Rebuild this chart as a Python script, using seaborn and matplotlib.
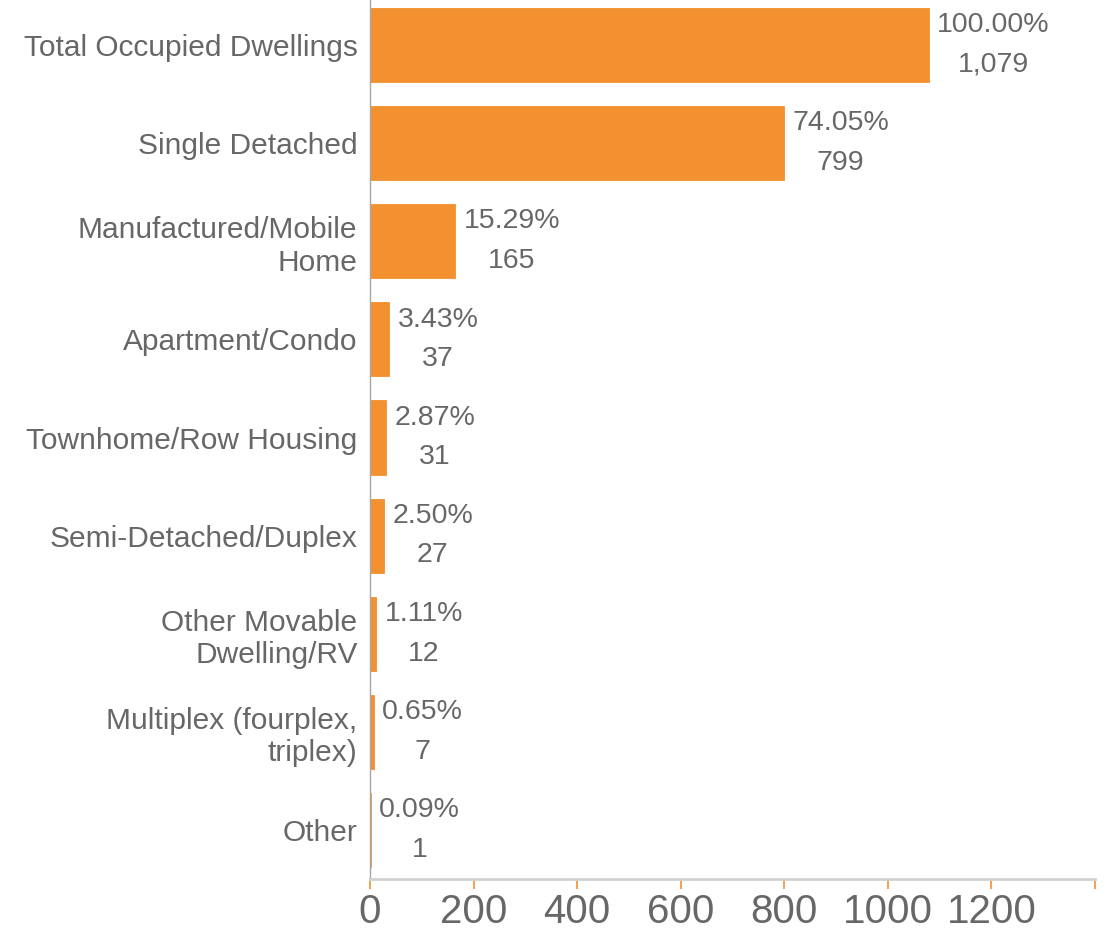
import matplotlib
matplotlib.use("Agg")
import matplotlib.pyplot as plt
import seaborn as sns
import pandas as pd
from matplotlib import font_manager

categories = [
    "Total Occupied Dwellings",
    "Single Detached",
    "Manufactured/Mobile\nHome",
    "Apartment/Condo",
    "Townhome/Row Housing",
    "Semi-Detached/Duplex",
    "Other Movable\nDwelling/RV",
    "Multiplex (fourplex,\ntriplex)",
    "Other",
]
counts = [1079, 799, 165, 37, 31, 27, 12, 7, 1]
percents = ["100.00%", "74.05%", "15.29%", "3.43%", "2.87%", "2.50%", "1.11%", "0.65%", "0.09%"]
xticks = [0, 200, 400, 600, 800, 1000, 1200, 1400]
xtick_labels = ["0", "200", "400", "600", "800", "1000", "1200", ""]

ORANGE = "#F39130"
GREY_TEXT = "#676767"

sns.set_style("white")
plt.rcParams["font.family"] = ["Liberation Sans", "DejaVu Sans"]

names = {f.name for f in font_manager.fontManager.ttflist}
tick_family = "Liberation Sans Narrow" if "Liberation Sans Narrow" in names else "Liberation Sans"

df = pd.DataFrame({"category": categories, "count": counts})

fig = plt.figure(figsize=(11.12, 9.32), dpi=100)
ax = fig.add_axes([370 / 1112, 1 - 879 / 932, (1095 - 370) / 1112, 883 / 932])

sns.barplot(data=df, x="count", y="category", color=ORANGE, saturation=1,
            width=0.755, ax=ax, orient="h", edgecolor=ORANGE, linewidth=0.6)

for i, (c, p) in enumerate(zip(counts, percents)):
    ax.annotate(f"{p}\n{c:,}", xy=(c, i), xytext=(6, 0), textcoords="offset points",
                ha="left", va="center", multialignment="center", linespacing=1.68,
                fontsize=20.5, color=GREY_TEXT)

ax.set_xlim(0, 1400)
ax.set_ylim(8.5, -0.5)
ax.set_xticks(xticks)
ax.set_xticklabels(xtick_labels, fontsize=29, color=GREY_TEXT, family=tick_family)
ax.tick_params(axis="x", direction="out", length=7, width=1.2, color=ORANGE, pad=3, bottom=True)
ax.tick_params(axis="y", length=0, pad=9, labelsize=21.5, labelcolor=GREY_TEXT)
ax.set_xlabel("")
ax.set_ylabel("")

for side in ["top", "right"]:
    ax.spines[side].set_visible(False)
ax.spines["left"].set_color("#A6A6A6")
ax.spines["left"].set_linewidth(1.0)
ax.spines["bottom"].set_color("#D0D0D0")
ax.spines["bottom"].set_linewidth(2.0)

plt.savefig("out.png", dpi=100)
plt.close()
